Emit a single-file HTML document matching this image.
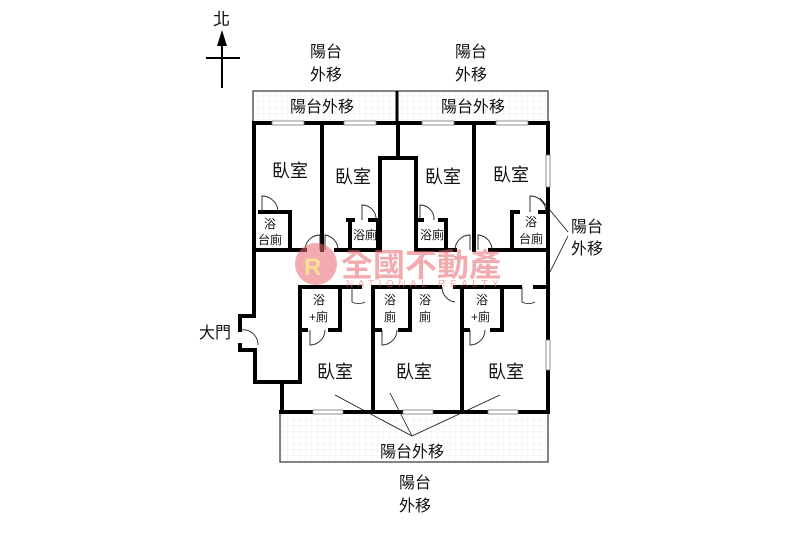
<!DOCTYPE html>
<html><head><meta charset="utf-8"><style>
body{margin:0;background:#fff}
svg{display:block}
text{font-family:"Liberation Sans","Noto Sans CJK TC",sans-serif;fill:#111}
</style></head><body>
<svg width="800" height="534" viewBox="0 0 800 534" xmlns="http://www.w3.org/2000/svg">
<defs>
<pattern id="g" width="6" height="6" patternUnits="userSpaceOnUse"><path d="M6 0V6M0 6H6" stroke="#e2e2e2" stroke-width="0.6"/></pattern>
</defs>
<text x="213" y="25" font-size="17">北</text>
<line x1="222" y1="36" x2="222" y2="88" stroke="#000" stroke-width="2"/>
<polygon points="222,30 217,46 227,46" fill="#000"/>
<line x1="206" y1="58" x2="240" y2="58" stroke="#000" stroke-width="2"/>
<rect x="253" y="91" width="295" height="31" fill="url(#g)" stroke="#333" stroke-width="1.2"/>
<line x1="397" y1="91" x2="397" y2="122" stroke="#000" stroke-width="3"/>
<rect x="280" y="412" width="268" height="50" fill="url(#g)" stroke="#333" stroke-width="1.2"/>
<g font-size="16">
<text x="290" y="112">陽台外移</text><text x="441" y="112">陽台外移</text>
<text x="380" y="457">陽台外移</text>
<text x="310" y="57">陽台</text><text x="310" y="80">外移</text>
<text x="455" y="57">陽台</text><text x="455" y="80">外移</text>
<text x="571" y="232">陽台</text><text x="571" y="254">外移</text>
<text x="399" y="488">陽台</text><text x="399" y="511">外移</text>
<text x="199" y="338">大門</text>
</g>
<g stroke="#000" stroke-width="4" fill="none" stroke-linecap="square">
<line x1="254" y1="123" x2="548" y2="123"/>
<path d="M254 123V316H240V330M240 345V350H255V382H300V287H360M375 287H440M455 287H520M535 287H548"/>
<line x1="548" y1="123" x2="548" y2="412"/>
<line x1="282" y1="382" x2="282" y2="412"/>
<line x1="281" y1="412" x2="548" y2="412"/>
<line x1="322" y1="123" x2="322" y2="250"/>
<line x1="474" y1="123" x2="474" y2="250"/>
<path d="M398 123V158M380 250V158H416V250"/>
<path d="M254 250H305M336 250H380M416 250H455M490 250H548"/>
<path d="M260 212H290V248M350 220V250M348 220H353M370 220H378V250M416 220H422M440 220H446V250M512 250V212H518M540 212H546"/>
<line x1="373" y1="287" x2="373" y2="412"/>
<line x1="462" y1="287" x2="462" y2="412"/>
<path d="M340 287V330H330M302 330H306"/>
<path d="M410 287V330H400M375 330H380"/>
<path d="M502 287V330H492M464 330H468"/>
</g>
<g fill="#fff" stroke="#777" stroke-width="0.8">
<rect x="272" y="121" width="32" height="4"/><rect x="344" y="121" width="32" height="4"/>
<rect x="422" y="121" width="32" height="4"/><rect x="496" y="121" width="32" height="4"/>
<rect x="313" y="410" width="30" height="4"/><rect x="403" y="410" width="30" height="4"/><rect x="488" y="410" width="30" height="4"/>
<rect x="546" y="155" width="4" height="32"/><rect x="546" y="340" width="4" height="30"/>
</g>
<g stroke="#222" stroke-width="0.9" fill="none">
<path d="M262 212V196A16 16 0 0 1 278 212"/>
<path d="M305 250A15 15 0 0 1 320 235V250"/>
<path d="M325 250V235A15 15 0 0 1 338 250"/>
<path d="M362 220V205A14 14 0 0 1 376 220"/>
<path d="M420 220V205A14 14 0 0 1 434 220"/>
<path d="M455 250A15 15 0 0 1 470 235V250"/>
<path d="M478 250V235A15 15 0 0 1 492 250"/>
<path d="M530 212V196A16 16 0 0 1 546 212"/>
<path d="M240 330A15 15 0 0 1 258 345"/>
<path d="M352 287V302A14 14 0 0 0 365 302"/>
<path d="M442 287A15 15 0 0 0 455 302"/>
<path d="M522 287V302A14 14 0 0 0 535 302"/>
<path d="M310 330V345A15 15 0 0 0 325 330"/>
<path d="M382 330V345A15 15 0 0 0 397 330"/>
<path d="M470 330V345A15 15 0 0 0 485 330"/>
</g>
<g stroke="#111" stroke-width="0.8">
<line x1="568" y1="232" x2="540" y2="198"/><line x1="568" y1="236" x2="550" y2="272"/>
<line x1="412" y1="436" x2="335" y2="395"/><line x1="412" y1="436" x2="390" y2="393"/><line x1="412" y1="436" x2="500" y2="395"/>
</g>
<g font-size="18">
<text x="272" y="177">臥室</text><text x="335" y="183">臥室</text>
<text x="425" y="183">臥室</text><text x="493" y="181">臥室</text>
<text x="317" y="378">臥室</text><text x="396" y="378">臥室</text><text x="488" y="378">臥室</text>
</g>
<g font-size="12">
<text x="264" y="228">浴</text><text x="258" y="244">台廁</text>
<text x="353" y="239">浴廁</text><text x="420" y="239">浴廁</text>
<text x="525" y="226">浴</text><text x="519" y="243">台廁</text>
<text x="313" y="304">浴</text><text x="309" y="321">+廁</text>
<text x="384" y="304">浴</text><text x="384" y="321">廁</text>
<text x="419" y="304">浴</text><text x="419" y="321">廁</text>
<text x="476" y="304">浴</text><text x="471" y="321">+廁</text>
</g>
<g opacity="0.55">
<circle cx="316" cy="264" r="21" fill="#e8686e"/>
<text x="304" y="275" font-size="24" font-weight="bold" style="fill:#f5c842">R</text>
<text x="341" y="276" font-size="32" font-weight="bold" style="fill:#e8686e">全國不動產</text>
<text x="346" y="287" font-size="10" letter-spacing="4.5" style="fill:#e8686e">NATIONAL REALTY</text>
</g>
</svg>
</body></html>
